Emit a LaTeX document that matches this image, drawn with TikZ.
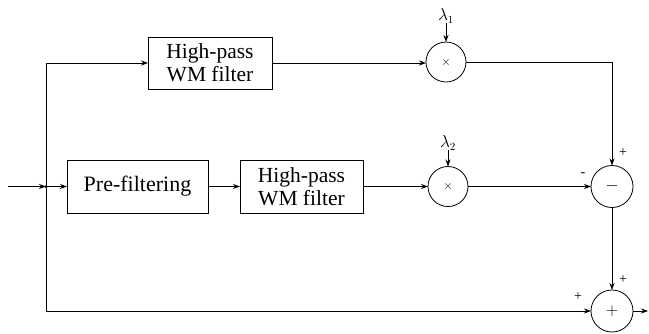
\documentclass[tikz,border=0pt]{standalone}
\usepackage{fontspec}
\setmainfont{Liberation Serif}
\usetikzlibrary{arrows.meta}
\begin{document}
\begin{tikzpicture}[x=1pt,y=-1pt,
  line width=0.8pt,
  every node/.style={inner sep=0pt,outer sep=0pt},
  blockbox/.style={draw,rectangle,align=center,font=\fontsize{21.5}{23}\selectfont},
  opcircle/.style={draw,circle,minimum size=#1},
  sig/.style={-{Stealth[length=7pt,width=5pt]}},
  signlabel/.style={font=\fontsize{14}{14}\selectfont},
  lamlabel/.style={font=\fontsize{16}{18}\selectfont}]
\useasboundingbox (0,0) rectangle (649,333);
% blocks
\node[blockbox,minimum width=124pt,minimum height=52pt] (hp1) at (210,63) {High-pass\\WM filter};
\node[blockbox,minimum width=141pt,minimum height=53pt,font=\fontsize{22}{24}\selectfont] (pre) at (137.5,186.5) {Pre-filtering};
\node[blockbox,minimum width=123pt,minimum height=53pt] (hp2) at (301.5,186.5) {High-pass\\WM filter};
% operators
\node[opcircle=40pt] (m1) at (446,62) {\fontsize{12}{12}\selectfont$\times$};
\node[opcircle=40pt] (m2) at (448,186.5) {\fontsize{12}{12}\selectfont$\times$};
\node[opcircle=42pt] (sub) at (612,186.5) {\fontsize{18}{18}\selectfont$-$};
\node[opcircle=42pt] (add) at (612,311) {\fontsize{18}{18}\selectfont$+$};
% gains
\node[lamlabel] (l1) at (446,16) {$\lambda_1$};
\node[lamlabel] (l2) at (448,143) {$\lambda_2$};
% points
\coordinate (in) at (8,186.5);
\coordinate (split) at (46,186.5);
\coordinate (out) at (648,311);
\fill (split) circle (1.5pt);
% connectors
\draw[sig] (in) -- (split);
\draw[sig] (split) -- (pre.west);
\draw[sig] (split) |- (hp1.west);
\draw[sig] (split) |- (add.west);
\draw[sig] (hp1.east) -- (hp1.east -| m1.west);
\draw[sig] (pre.east) -- (hp2.west);
\draw[sig] (hp2.east) -- (m2.west);
\draw[sig] (m2.east) -- (sub.west);
\draw[sig] (m1.east) -| (sub.north);
\draw[sig] (sub.south) -- (add.north);
\draw[sig] (add.east) -- (out);
\draw[sig] (l1.south) -- (m1.north);
\draw[sig] (l2.south) -- (m2.north);
% signs
\node[signlabel] (s1) at (623,153) {+};
\node[signlabel] (s2) at (583,175) {-};
\node[signlabel] (s3) at (623,280) {+};
\node[signlabel] (s4) at (578,297) {+};
\end{tikzpicture}
\end{document}
